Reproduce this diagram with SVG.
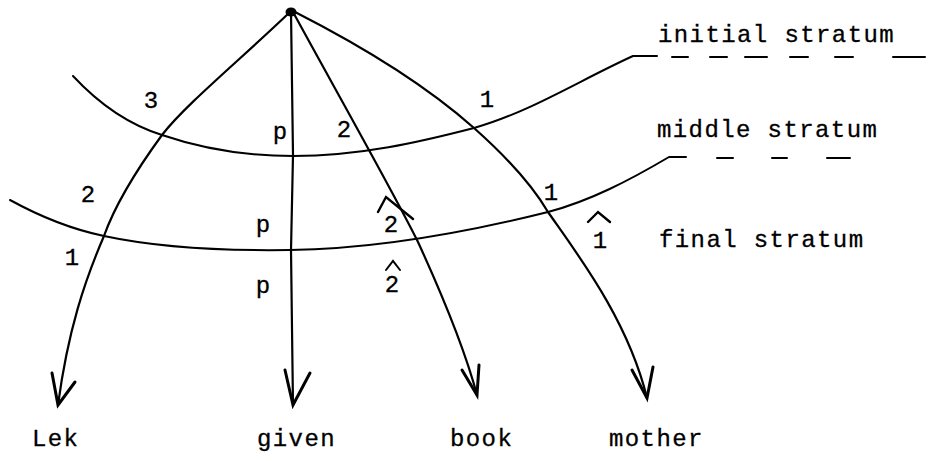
<svg xmlns="http://www.w3.org/2000/svg" width="928" height="461" viewBox="0 0 928 461">
<style>
  .ln { fill: none; stroke: #000; stroke-width: 2; stroke-linecap: round; stroke-linejoin: round; }
  .arc { fill: none; stroke: #000; stroke-width: 2.2; stroke-linecap: round; stroke-linejoin: round; }
  .head { fill: none; stroke: #000; stroke-width: 3; stroke-linecap: round; stroke-linejoin: miter; }
  .hat { fill: none; stroke: #000; stroke-width: 2.4; stroke-linecap: round; stroke-linejoin: miter; }
  .t { font-family: "Liberation Mono", "DejaVu Sans Mono", monospace; font-size: 24px; fill: #000; stroke: #000; stroke-width: 0.3; }
  .w { letter-spacing: 1.4px; }
  .c { text-anchor: middle; }
</style>
<rect width="928" height="461" fill="#fff"/>

<g id="strata">
  <path class="ln" d="M73,76 C100,105 130,125 162,135 C200,148 245,156 293,156 C360,156 420,142 474,128 C530,112 580,80 633,56 L657,56"/>
  <path class="ln" d="M672,57 L688,57 M710,57 L727,57 M745,57 L767,57 M790,57 L808,57 M835,57 L853,57 M893,57 L925,57"/>
  <path class="ln" d="M10,200 C50,222 80,231 104,236 C160,248 220,251 290,250 C370,249 460,234 548,212 C590,201 630,180 669,157 L686,157"/>
  <path class="ln" d="M717,158 L733,158 M772,158 L787,158 M827,158 L850,158"/>
</g>

<g id="connectors">
  <path class="arc" d="M290,12 C240,60 185,105 162,135 C135,172 115,205 104,236 C85,280 68,330 58,405"/>
  <polyline class="head" points="52,373 58,405 75,382"/>
  <path class="arc" d="M291,12 L293,155 L291,250 L293,405"/>
  <polyline class="head" points="285,370 293,405 310,373"/>
  <path class="arc" d="M293,12 C330,80 395,195 418,242 C440,290 465,350 477,395"/>
  <polyline class="head" points="462,370 477,395 479,365"/>
  <path class="arc" d="M295,12 C350,40 420,80 474,128 C510,160 535,190 548,212 C578,255 628,320 647,398"/>
  <polyline class="head" points="632,370 647,398 653,367"/>
</g>

<g id="apex">
  <ellipse cx="291" cy="12" rx="5.5" ry="4.5" fill="#000"/>
</g>

<g id="relation-labels">
  <text class="t c" x="151" y="108">3</text>
  <text class="t c" x="280" y="139">p</text>
  <text class="t c" x="344" y="137">2</text>
  <text class="t c" x="487" y="107">1</text>
  <text class="t c" x="88" y="202">2</text>
  <text class="t c" x="263" y="232">p</text>
  <text class="t c" x="391" y="232">2</text>
  <polyline class="hat" points="378,212 386,197 413,219"/>
  <text class="t c" x="551" y="200">1</text>
  <text class="t c" x="600" y="248">1</text>
  <polyline class="hat" points="588,222 598,212 610,222"/>
  <text class="t c" x="72" y="265">1</text>
  <text class="t c" x="263" y="293">p</text>
  <text class="t c" x="392" y="292">2</text>
  <polyline class="hat" points="386,270 393,261 400,270" style="stroke-width:2"/>
</g>

<g id="stratum-labels">
  <text class="t w" x="658" y="42">initial stratum</text>
  <text class="t w" x="657" y="137">middle stratum</text>
  <text class="t w" x="659" y="247">final stratum</text>
</g>

<g id="node-Lek"><text class="t w" x="32" y="446">Lek</text></g>
<g id="node-given"><text class="t w" x="257" y="446">given</text></g>
<g id="node-book"><text class="t w" x="450" y="446">book</text></g>
<g id="node-mother"><text class="t w" x="609" y="446">mother</text></g>
</svg>
